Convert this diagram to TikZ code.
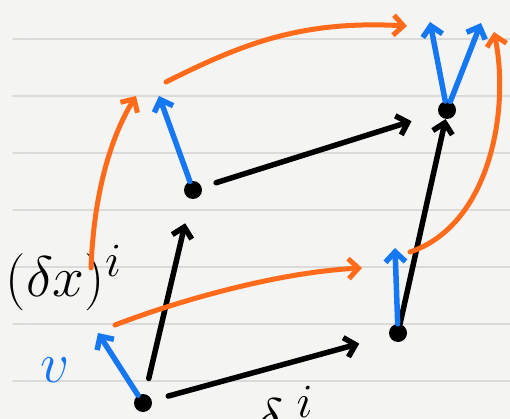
\documentclass[tikz,border=0pt]{standalone}
\usepackage{amsmath}
\usepackage{xcolor}
\usepackage{tikz}
\usetikzlibrary{arrows.meta}
\definecolor{PenOrange}{HTML}{FF6B1A}
\definecolor{PenBlue}{HTML}{1677F2}
\definecolor{PaperRule}{HTML}{DADADA}
\definecolor{PaperBg}{HTML}{F4F4F2}

\begin{document}
\begin{tikzpicture}[x=1pt,y=-1pt,line cap=round,line join=round,
  pen/.style={line width=5.5pt,-{Straight Barb[length=10pt,width=20pt]}},
  flow/.style={pen,PenOrange,line width=5pt},
  vec/.style={pen,PenBlue},
  dot/.style={circle,fill=black,inner sep=0pt,minimum size=18pt},
  hand/.style={inner sep=0pt,font=\Huge,scale=2.3}]
\fill[PaperBg] (0,0) rectangle (510,419);
\useasboundingbox (0,0) rectangle (510,419);
% ruled paper
\draw[gray!10,line width=1pt] (27,0)--(27,419);
\foreach \y in {39,96,153,210,267,324,381}{\draw[PaperRule,line width=1.5pt] (13,\y)--(510,\y);}
% the four points
\node[dot] (pt00) at (143,403) {};
\node[dot] (pt10) at (398,333) {};
\node[dot] (pt01) at (193,190) {};
\node[dot] (pt11) at (447,110) {};
% labels
\node[hand] (dx) at (64,278) {$(\delta x)^{i}$};
\node[hand,PenBlue] (vlab) at (55,370) {$v$};
\node[hand,anchor=north west] (dlab) at (256,386) {$\delta^{\;i}$};
% vector tips and curve ends
\coordinate (v00) at (98,333);
\coordinate (v01) at (159,96);
\coordinate (v10) at (395,248);
\coordinate (v11a) at (430,22);
\coordinate (v11b) at (481,23);
\coordinate (dxs) at (91,268);
\coordinate (dxe) at (136,96);
\coordinate (lows) at (115,325);
\coordinate (lowe) at (362,268);
\coordinate (tops) at (166,82);
\coordinate (tope) at (407,26);
\coordinate (rts) at (410,252);
\coordinate (rte) at (494,32);
% black sides
\draw[pen,shorten <=17pt,shorten >=31pt] (pt00) -- (pt10);
\draw[pen,shorten <=16pt,shorten >=25pt] (pt00) -- (pt01);
\draw[pen,shorten <=15pt,shorten >=28pt] (pt01) -- (pt11);
\draw[pen] ([shift={(17,-18)}]pt10) -- ([shift={(-2,33)}]pt11);
% blue vectors
\draw[vec] ([shift={(-15,-3)}]pt00) -- (v00);
\draw[vec] ([shift={(-16,-13)}]pt01) -- (v01);
\draw[vec] ([shift={(-1,-5)}]pt10) -- (v10);
\draw[vec] ([shift={(-7,-10)}]pt11) -- (v11a);
\draw[vec] ([shift={(10,-9)}]pt11) -- (v11b);
% orange transport
\draw[flow] (dxs) .. controls (94,190) and (112,135) .. (dxe);
\draw[flow] (lows) .. controls (180,300) and (280,272) .. (lowe);
\draw[flow] (tops) .. controls (240,45) and (300,20) .. (tope);
\draw[flow] (rts) .. controls (490,225) and (510,110) .. (rte);
\end{tikzpicture}
\end{document}
